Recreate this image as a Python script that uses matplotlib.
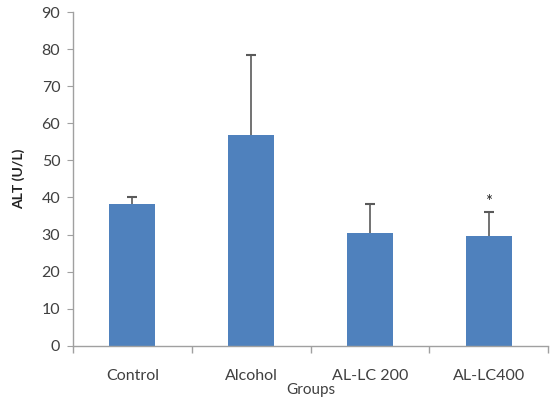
import matplotlib
matplotlib.use("Agg")
import matplotlib.pyplot as plt
import numpy as np

groups = ["Control", "Alcohol", "AL-LC 200", "AL-LC400"]
means = [38.2, 56.8, 30.3, 29.7]
errors = [1.8, 21.6, 7.9, 6.4]
marks = ["", "", "", "*"]

plt.rcParams['font.family'] = ['Lato', 'DejaVu Sans']

fig = plt.figure(figsize=(5.56, 4.04), dpi=100)
ax = fig.add_axes([0.131, 0.1443, 0.855, 0.8257])

x = np.arange(len(groups))
# symmetric error bars drawn behind bars, so only the upper half shows
ax.errorbar(x, means, yerr=errors, fmt="none",
            ecolor="#5a5a5a", elinewidth=1.2, capsize=3.5, capthick=1.5, zorder=1)
ax.bar(x, means, width=0.39, color="#4F81BD", zorder=2)
for xi, m, e, s in zip(x, means, errors, marks):
    if s:
        ax.text(xi, m + e + 0.5, s, ha="center", va="bottom", fontsize=12, color="#222222")

ax.set_xlim(-0.5, len(groups) - 0.5)
ax.set_ylim(0, 90)
ax.set_yticks(np.arange(0, 91, 10))
ax.set_xticks(x)
ax.set_xticklabels(groups, fontsize=11.5, color="#404040")
ax.set_xticks(np.arange(-0.5, len(groups), 1.0), minor=True)
ax.tick_params(axis="x", which="major", length=0, pad=17)
ax.tick_params(axis="x", which="minor", length=5, color="#a0a0a0", width=1)
ax.tick_params(axis="y", length=4, color="#a0a0a0", labelsize=11.5, labelcolor="#404040", pad=5)

for side in ["top", "right"]:
    ax.spines[side].set_visible(False)
for side in ["left", "bottom"]:
    ax.spines[side].set_color("#a0a0a0")
    ax.spines[side].set_linewidth(1)

ax.set_ylabel("ALT (U/L)", fontsize=10, fontweight="bold", color="#222222", labelpad=12)
ax.set_xlabel("Groups", fontsize=11, color="#404040", labelpad=0)

fig.savefig("out.png", dpi=100)
